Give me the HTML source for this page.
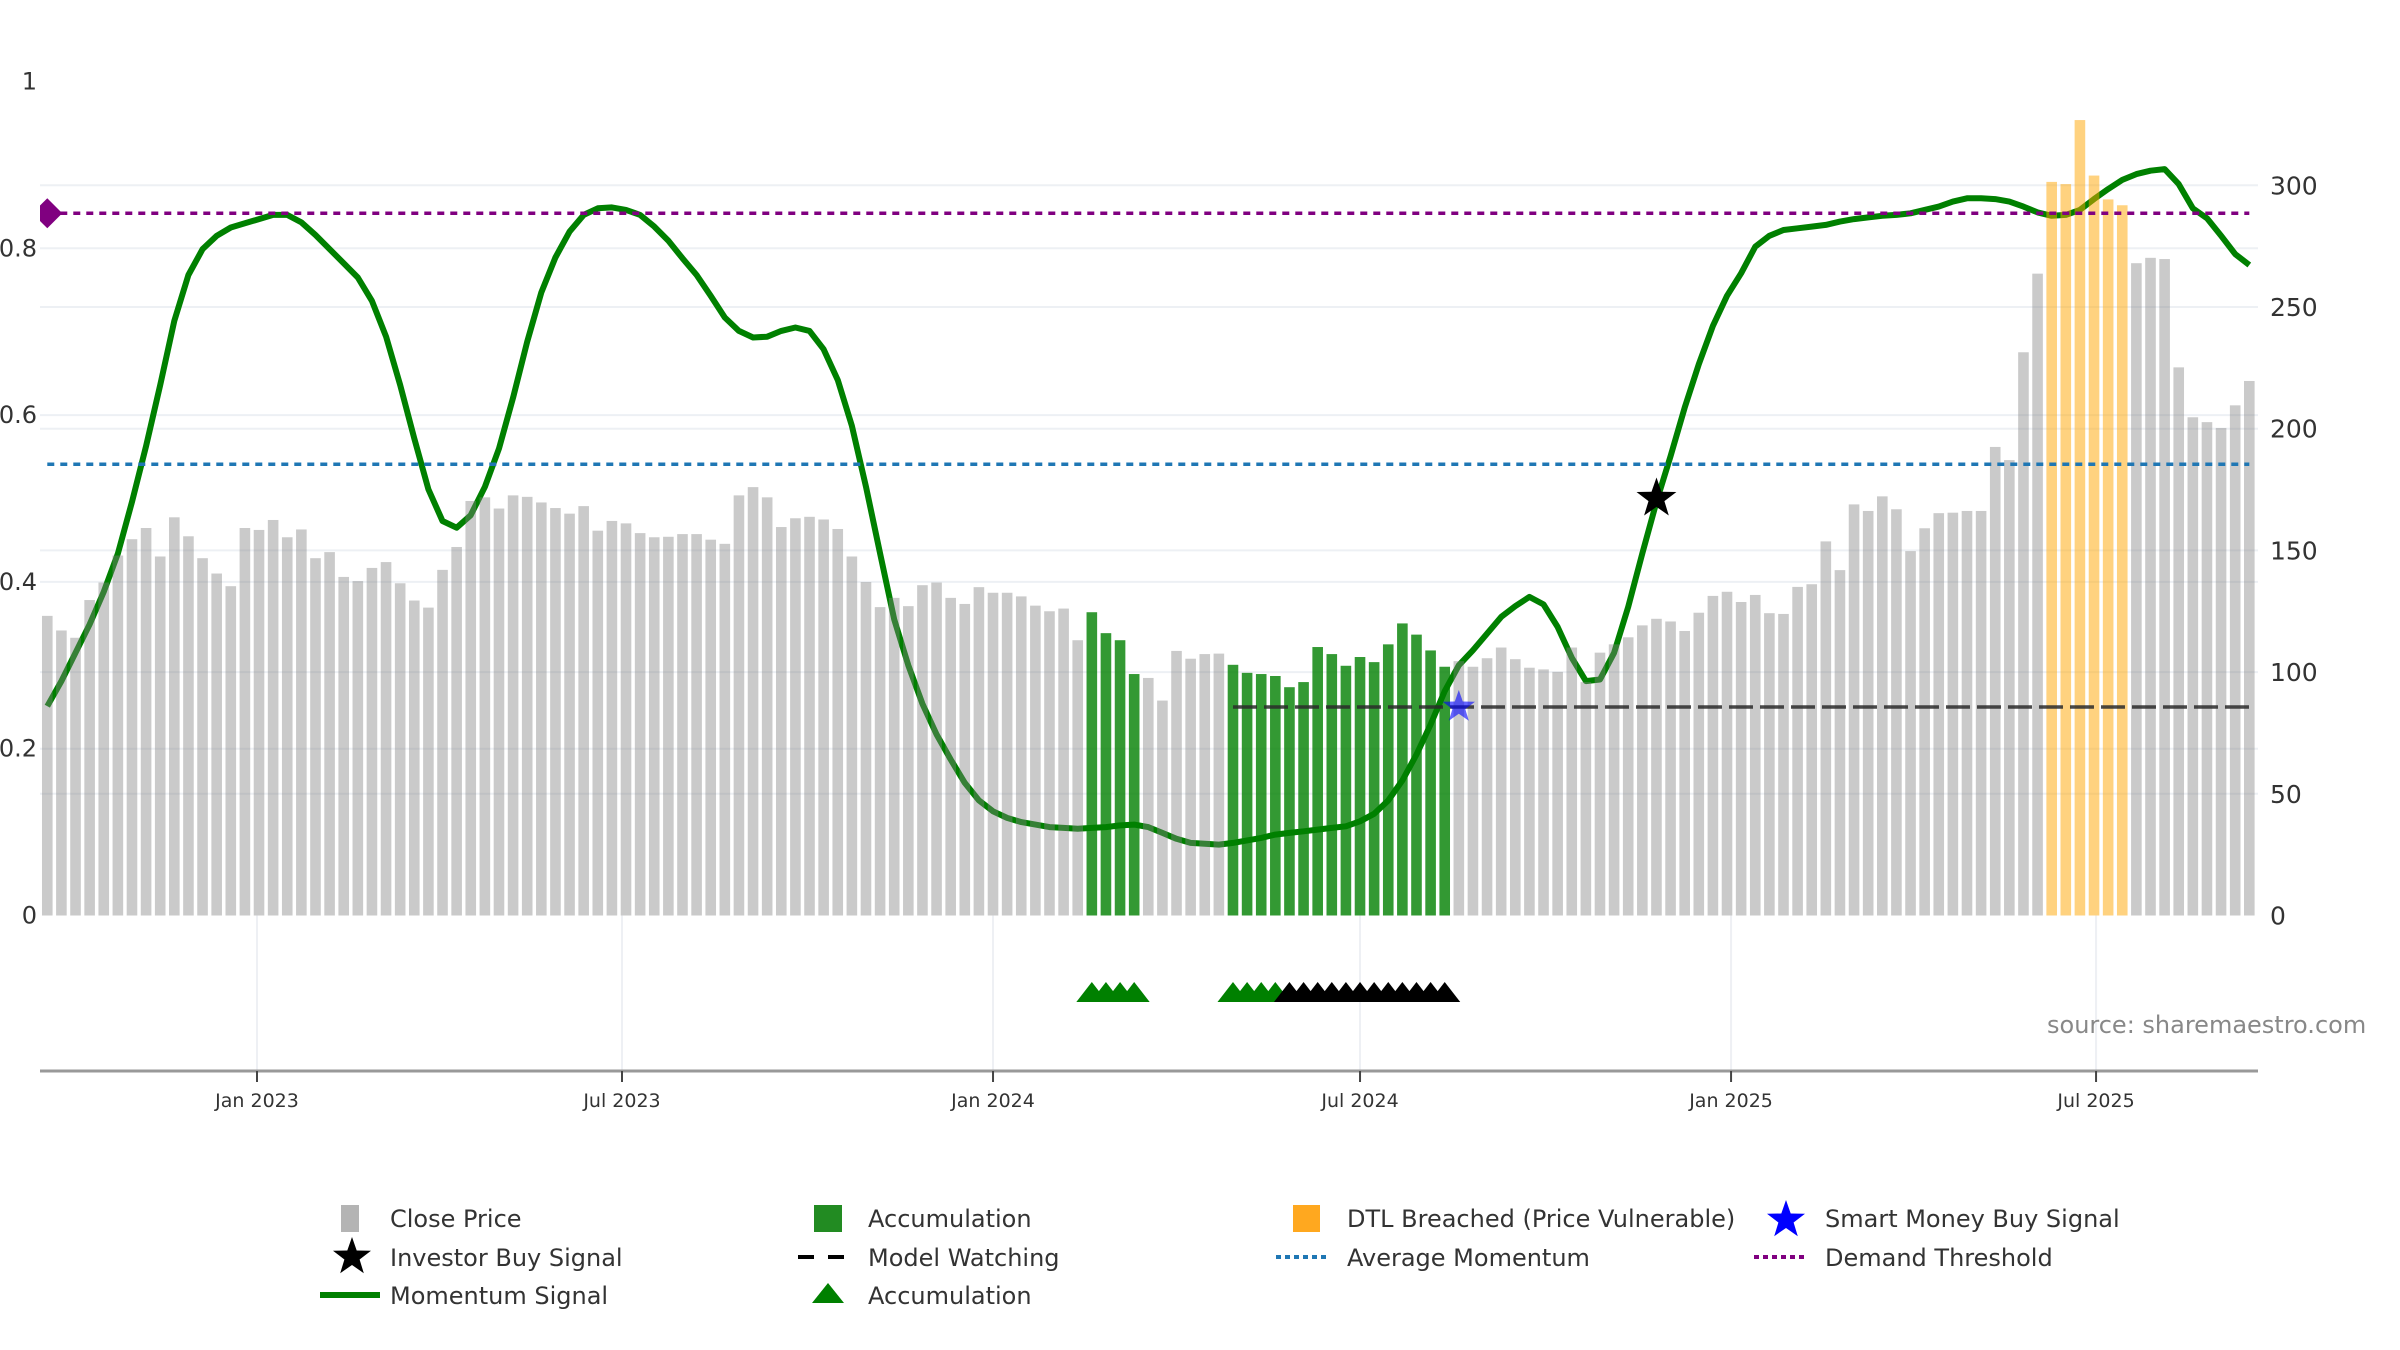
<!DOCTYPE html>
<html><head><meta charset="utf-8"><style>
html,body{margin:0;padding:0;background:#fff;}
svg{display:block;font-family:"DejaVu Sans","Liberation Sans",sans-serif;}
</style></head><body>
<svg id="chart" width="2400" height="1350" viewBox="0 0 2400 1350" xmlns="http://www.w3.org/2000/svg">
<defs><clipPath id="plotclip"><rect x="40" y="0" width="2220" height="1350"/></clipPath></defs>
<g id="grid"></g>
<g id="line"></g>
<g id="bars"></g>
<g id="overlay"></g>
<g id="markers" clip-path="url(#plotclip)"></g>
<g id="axes"></g>
<text x="2047" y="1033" font-size="24" fill="#888">source: sharemaestro.com</text>
<g font-size="24" fill="#333">
  <g><rect x="341" y="1205" width="18" height="27" fill="#b4b4b4"/><text x="390" y="1227">Close Price</text></g>
  <g><path id="lstar1" fill="#000"/><text x="390" y="1266">Investor Buy Signal</text></g>
  <g><line x1="320" y1="1295" x2="380" y2="1295" stroke="#008000" stroke-width="6"/><text x="390" y="1304">Momentum Signal</text></g>
  <g><rect x="814" y="1205" width="28" height="27" fill="#228b22"/><text x="868" y="1227">Accumulation</text></g>
  <g><line x1="798" y1="1257" x2="854" y2="1257" stroke="#000" stroke-width="4" stroke-dasharray="16,14"/><text x="868" y="1266">Model Watching</text></g>
  <g><polygon points="828,1283 844,1303 812,1303" fill="#008000"/><text x="868" y="1304">Accumulation</text></g>
  <g><rect x="1293" y="1205" width="27" height="27" fill="#ffa81f"/><text x="1347" y="1227">DTL Breached (Price Vulnerable)</text></g>
  <g><line x1="1276" y1="1257" x2="1330" y2="1257" stroke="#1f77b4" stroke-width="4" stroke-dasharray="5,4"/><text x="1347" y="1266">Average Momentum</text></g>
  <g><path id="lstar2" fill="#0000ff"/><text x="1825" y="1227">Smart Money Buy Signal</text></g>
  <g><line x1="1754" y1="1257" x2="1808" y2="1257" stroke="#800080" stroke-width="4" stroke-dasharray="5,4"/><text x="1825" y="1266">Demand Threshold</text></g>
</g>
</svg>
<script>
const closePrices = [123.1,117.1,114.1,129.6,136.8,147.9,154.6,159.2,147.5,163.6,155.8,146.8,140.5,135.3,159.2,158.4,162.5,155.4,158.6,146.8,149.3,139.1,137.4,142.8,145.2,136.5,129.4,126.5,142.0,151.4,170.3,171.8,167.2,172.6,172.0,169.7,167.4,165.1,168.2,158.1,162.1,161.1,
157.1,155.4,155.6,156.7,156.7,154.4,152.7,172.6,176.0,171.8,159.6,163.2,163.8,162.7,158.8,147.5,137.0,126.7,130.5,127.1,135.7,136.8,130.5,128.0,134.9,132.6,132.6,131.1,127.3,125.0,126.1,113.1,124.6,116.0,113.1,99.2,97.6,88.3,108.7,105.5,
107.4,107.6,103.0,99.7,99.2,98.4,93.8,95.9,110.3,107.4,102.6,106.2,104.1,111.4,120.0,115.4,108.9,102.2,104.5,102.2,105.7,110.1,105.3,101.8,101.1,100.1,110.1,95.9,108.0,111.4,114.3,119.2,121.9,120.8,116.9,124.4,131.3,133.0,128.8,131.7,124.2,
123.9,135.0,136.1,153.7,141.9,168.9,166.2,172.2,166.9,149.7,159.1,165.3,165.5,166.2,166.2,192.5,187.1,231.4,263.7,301.4,300.5,326.8,304.0,294.2,291.8,268.0,270.2,269.7,225.2,204.7,202.7,200.3,209.6,219.6];
const momentum = [.251,.281,.315,.349,.388,.434,.496,.563,.636,.713,.768,.799,.815,.825,.830,.835,.840,.840,.831,.816,.799,.782,.765,.737,.694,.636,.572,.511,.473,.465,.480,.514,.560,.621,.688,.747,.789,.820,.840,.848,.849,.846,
.840,.826,.809,.788,.768,.743,.717,.701,.693,.694,.701,.705,.701,.679,.642,.587,.514,.434,.355,.300,.254,.217,.187,.159,.138,.125,.117,.112,.109,.106,.105,.104,.105,.106,.108,.109,.106,.099,.092,.087,
.086,.085,.087,.090,.093,.097,.099,.101,.103,.105,.107,.113,.122,.138,.162,.193,.229,.269,.300,.318,.338,.358,.371,.382,.373,.346,.309,.281,.283,.315,.370,.434,.496,.551,.609,.661,.707,.743,.770,.802,.815,
.822,.824,.826,.828,.832,.835,.837,.839,.840,.842,.846,.850,.856,.860,.860,.859,.856,.850,.843,.839,.840,.846,.859,.871,.882,.889,.893,.895,.877,.848,.836,.815,.793,.780];
const accumulationBars = [74,75,76,77,84,85,86,87,88,89,90,91,92,93,94,95,96,97,98,99];
const dtlBars = [142,143,144,145,146,147];
const greenTriangles = [74,75,76,77,84,85,86,87];
const blackTriangles = [88,89,90,91,92,93,94,95,96,97,98,99];
const demandThreshold = 0.842;
const averageMomentum = 0.541;
const modelWatchingLevel = 0.25;
const modelWatchingStart = 84;
const smartMoneySignal = [100, 0.25];
const investorBuySignal = [114, 0.50];
const leftTicks = [0, 0.2, 0.4, 0.6, 0.8, 1];
const leftTickLabels = ["0","0.2","0.4","0.6","0.8","1"];
const rightTicks = [0, 50, 100, 150, 200, 250, 300];
const xTickDays = [0, 181, 365, 547, 731, 912];
const xTickLabels = ["Jan 2023","Jul 2023","Jan 2024","Jul 2024","Jan 2025","Jul 2025"];
const firstBarDay = -104;

const NS = "http://www.w3.org/2000/svg";
const PL = 40, PR = 2258, Y0 = 915.5;
function xDay(d){ return 257 + 2.0165 * d; }
function xBar(i){ return xDay(firstBarDay + 7 * i); }
function yL(v){ return Y0 - v * 834; }
function yR(v){ return Y0 - v * 2.434; }
function mk(tag, attrs, parent){ const e = document.createElementNS(NS, tag); for (const k in attrs) e.setAttribute(k, attrs[k]); parent.appendChild(e); return e; }
function starPath(cx, cy, R){ const r = R * 0.4; let p = ""; for (let i = 0; i < 10; i++){ const a = -Math.PI/2 + i*Math.PI/5; const rr = i%2 ? r : R; p += (i ? "L" : "M") + (cx + rr*Math.cos(a)).toFixed(1) + "," + (cy + rr*Math.sin(a)).toFixed(1); } return p + "Z"; }

const grid = document.getElementById('grid');
rightTicks.forEach(t => { if (t === 0) return; const l = mk('line', {x1:PL, x2:PR, y1:yR(t), y2:yR(t), stroke:'#edf0f4', 'stroke-width':2}, grid);
  
   });
leftTicks.forEach(t => { if (t === 0 || t === 1) return; const l = mk('line', {x1:PL, x2:PR, y1:yL(t), y2:yL(t), stroke:'#edf0f4', 'stroke-width':2}, grid);
  
   });
xTickDays.forEach(d => { const l = mk('line', {x1:xDay(d), x2:xDay(d), y1:Y0, y2:1070, stroke:'#eef0f4', 'stroke-width':2}, grid);
  
   });

const lineG = document.getElementById('line');
const pts = momentum.map((v, i) => xBar(i).toFixed(1) + ',' + yL(v).toFixed(1)).join(' ');
const ml = mk('polyline', {points:pts, fill:'none', stroke:'#008000', 'stroke-width':6, 'stroke-linejoin':'round'}, lineG);



const barsG = document.getElementById('bars');
closePrices.forEach((v, i) => {
  let fill = '#808080', op = 0.42, name = 'close-price-bar';
  if (accumulationBars.includes(i)) { fill = '#008000'; op = 0.8; name = 'accumulation-bar'; }
  if (dtlBars.includes(i)) { fill = '#ffa500'; op = 0.5; name = 'dtl-breached-bar'; }
  const r = mk('rect', {x:xBar(i) - 5.3, y:yR(v), width:10.6, height:Y0 - yR(v), fill:fill, 'fill-opacity':op}, barsG);
  
  
});

const ov = document.getElementById('overlay');
const dt = mk('line', {x1:xBar(0), x2:xBar(closePrices.length-1), y1:yL(demandThreshold), y2:yL(demandThreshold), stroke:'#800080', 'stroke-width':3.5, 'stroke-dasharray':'7,6'}, ov);


const am = mk('line', {x1:xBar(0), x2:xBar(closePrices.length-1), y1:yL(averageMomentum), y2:yL(averageMomentum), stroke:'#1f77b4', 'stroke-width':3.5, 'stroke-dasharray':'7,6'}, ov);


const mw = mk('line', {x1:xBar(modelWatchingStart), x2:xBar(closePrices.length-1), y1:yL(modelWatchingLevel), y2:yL(modelWatchingLevel), stroke:'#2a2a2a', 'stroke-width':3.5, 'stroke-dasharray':'24,7', 'stroke-opacity':0.85}, ov);



const mg = document.getElementById('markers');
const dx = xBar(0), dy = yL(demandThreshold);
const dia = mk('polygon', {points:`${dx},${dy-15} ${dx+15},${dy} ${dx},${dy+15} ${dx-15},${dy}`, fill:'#800080'}, mg);


const ss = mk('path', {d:starPath(xBar(smartMoneySignal[0]), yL(smartMoneySignal[1]), 17), fill:'#0000ff', 'fill-opacity':0.6}, mg);


const ib = mk('path', {d:starPath(xBar(investorBuySignal[0]), yL(investorBuySignal[1]), 21), fill:'#000'}, mg);


function tri(i, color, name){ const cx = xBar(i); const t = mk('polygon', {points:`${cx},982 ${cx+15.5},1002 ${cx-15.5},1002`, fill:color}, mg);
  
   }
greenTriangles.forEach(i => tri(i, '#008000', 'accumulation-triangle'));
blackTriangles.forEach(i => tri(i, '#000000', 'watch-triangle'));

const ax = document.getElementById('axes');
const xl = mk('line', {x1:PL, x2:PR, y1:1071, y2:1071, stroke:'#999', 'stroke-width':3}, ax);


xTickDays.forEach((d, i) => {
  const tk = mk('line', {x1:xDay(d), x2:xDay(d), y1:1071, y2:1082, stroke:'#444', 'stroke-width':2}, ax);
  
  
  const t = mk('text', {x:xDay(d), y:1107, 'text-anchor':'middle', 'font-size':19, fill:'#333'}, ax);
  t.textContent = xTickLabels[i];
  
  
});
leftTicks.forEach((v, i) => {
  const t = mk('text', {x:37, y:yL(v) + 8, 'text-anchor':'end', 'font-size':24, fill:'#333'}, ax);
  t.textContent = leftTickLabels[i];
  
  
});
rightTicks.forEach(v => {
  const t = mk('text', {x:2270, y:yR(v) + 9, 'font-size':25, fill:'#333'}, ax);
  t.textContent = String(v);
  
  
});
document.getElementById('lstar1').setAttribute('d', starPath(352, 1257, 20));
document.getElementById('lstar2').setAttribute('d', starPath(1786, 1220, 20));
</script>
</body></html>
